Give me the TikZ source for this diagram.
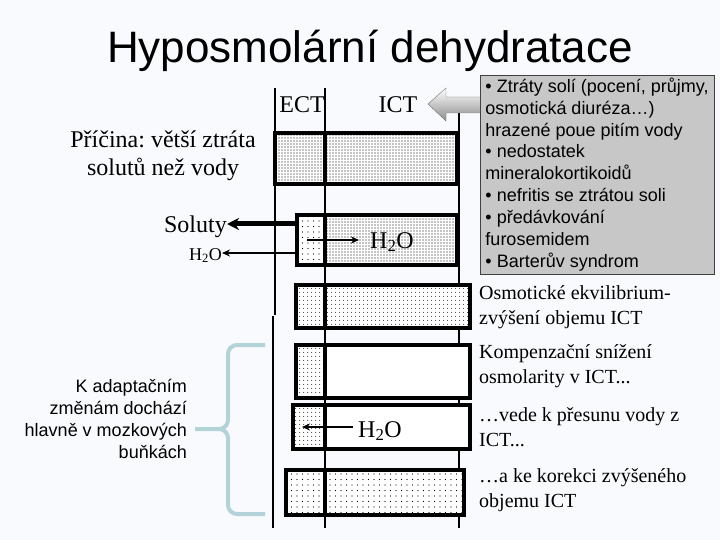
\documentclass[tikz,border=0pt]{standalone}
\usepackage{fontspec}
\setmainfont{Liberation Serif}
\newfontfamily\arialfont{Liberation Sans}
\usetikzlibrary{arrows.meta, patterns.meta, positioning}

\definecolor{bgcol}{RGB}{249,250,253}
\definecolor{bracecol}{RGB}{178,212,217}
\frenchspacing

\begin{document}
\begin{tikzpicture}[x=1pt, y=-1pt,
            wall/.style={line width=2.4pt},
            cell/.style={line width=4pt},
            dense/.style={pattern={Dots[distance=3pt, radius=0.55pt]}},
            mid/.style={pattern={Dots[distance=4pt, radius=0.6pt]}},
            loose/.style={pattern={Dots[distance=5.5pt, radius=0.65pt]}},
            lbl/.style={font=\fontsize{24}{28}\selectfont, inner sep=0pt},
            note/.style={font=\fontsize{20}{24.5}\selectfont, align=left,
                         inner sep=0pt, anchor=base west},
            callout/.style={draw=black!75, fill=black!22, minimum width=234pt,
                            minimum height=199pt, align=left, inner sep=0pt,
                            font=\arialfont\fontsize{18}{21.9}\selectfont},
            flow/.style={-{Stealth[length=8pt, width=7pt]}, line width=2pt},
            bigflow/.style={-{Stealth[length=12pt, width=12pt]}, line width=5pt},
            brace/.style={line width=4pt, draw=bracecol, rounded corners=9pt}]
          \useasboundingbox (0,0) rectangle (720,540);
          \fill[bgcol] (0,0) rectangle (720,540);

          \node[font=\arialfont\fontsize{44}{48}\selectfont, anchor=base, inner sep=0pt]
            (title) at (370,63) {Hyposmolární dehydratace};

          % membranes
          \draw[wall] (275,88) -- (275,315);
          \draw[wall] (273,316) -- (273,528);
          \draw[wall] (325,88) -- (325,528);
          \draw[wall] (459,113) -- (459,528);

          \node[lbl, anchor=base] (ect) at (302,113) {ECT};
          \node[lbl, anchor=base] (ict) at (398,113) {ICT};

          % compartments, top to bottom
          \path[fill=white, postaction={dense}] (275,133) rectangle (457,184);
          \draw[cell] (275,133) rectangle (457,184) (325,133) -- (325,184);

          \path[fill=white, postaction={loose}] (297,215) rectangle (325,265);
          \path[fill=white, postaction={dense}] (325,215) rectangle (457,265);
          \draw[cell] (297,215) rectangle (457,265) (325,215) -- (325,265);

          \path[fill=white, postaction={mid}] (296,285) rectangle (470,328);
          \draw[cell] (296,285) rectangle (470,328) (325,285) -- (325,328);

          \path[fill=white, postaction={mid}] (296,345) rectangle (325,398);
          \fill[white] (325,345) rectangle (470,398);
          \draw[cell] (296,345) rectangle (470,398) (325,345) -- (325,398);

          \path[fill=white, postaction={mid}] (293,405) rectangle (325,449);
          \fill[white] (325,405) rectangle (470,449);
          \draw[cell] (293,405) rectangle (470,449) (325,405) -- (325,449);

          \path[fill=white, postaction={loose}] (286,470) rectangle (464,515);
          \draw[cell] (286,470) rectangle (464,515) (325,470) -- (325,515);

          % water and solute shifts
          \node[lbl, anchor=base west] (h2oin) at (370,248) {H\textsubscript{2}O};
          \node[lbl, anchor=base west] (h2oback) at (358,437) {H\textsubscript{2}O};
          \coordinate (ectin) at (307,240);
          \coordinate (ectback) at (302,427);
          \draw[flow, shorten >=11pt] (ectin) -- (ectin -| h2oin.west);
          \draw[flow, shorten <=5pt] (ectback -| h2oback.west) -- (ectback);

          \node[lbl, align=center, anchor=base] (cause) at (163,176)
            {Příčina: větší ztráta\\ solutů než vody};
          \node[lbl, anchor=base east] (soluty) at (227,233) {Soluty};
          \node[font=\fontsize{18}{20}\selectfont, inner sep=0pt, anchor=base east]
            (h2oout) at (222,260) {H\textsubscript{2}O};
          \coordinate (b2sol) at (297,224);
          \coordinate (b2wat) at (297,253);
          \draw[bigflow] (b2sol) -- (b2sol -| soluty.east);
          \draw[flow] (b2wat) -- (b2wat -| h2oout.east);

          % causes box with block arrow
          \shade[top color=white, bottom color=black!45, draw=black!55]
            (428,104) -- (446,88) -- (446,97) -- (481,97) -- (481,113)
            -- (446,113) -- (446,121) -- cycle;
          \node[callout] (causes) at (597,174.5)
            {• Ztráty solí (pocení, průjmy,\\ osmotická diuréza…)\\
             hrazené poue pitím vody\\ • nedostatek\\ mineralokortikoidů\\
             • nefritis se ztrátou soli\\ • předávkování\\ furosemidem\\
             • Barterův syndrom};

          \node[note] (n1) at (479,324) {Osmotické ekvilibrium-\\ zvýšení objemu ICT};
          \node[note] (n2) at (479,383) {Kompenzační snížení\\ osmolarity v ICT...};
          \node[note] (n3) at (479,446) {…vede k přesunu vody z\\ ICT...};
          \node[note] (n4) at (479,507) {…a ke korekci zvýšeného\\ objemu ICT};

          % adaptation
          \node[font=\arialfont\fontsize{18}{22}\selectfont, align=right,
                anchor=base east, inner sep=0pt] (adapt) at (187,458)
            {K adaptačním\\ změnám dochází\\ hlavně v mozkových\\ buňkách};
          \coordinate (brtip) at (195,429);
          \draw[brace] (265,345) -- (228,345) -- (228,429) -- (brtip);
          \draw[brace] (265,514) -- (228,514) -- (228,429) -- (218,429);
        \end{tikzpicture}
\end{document}
